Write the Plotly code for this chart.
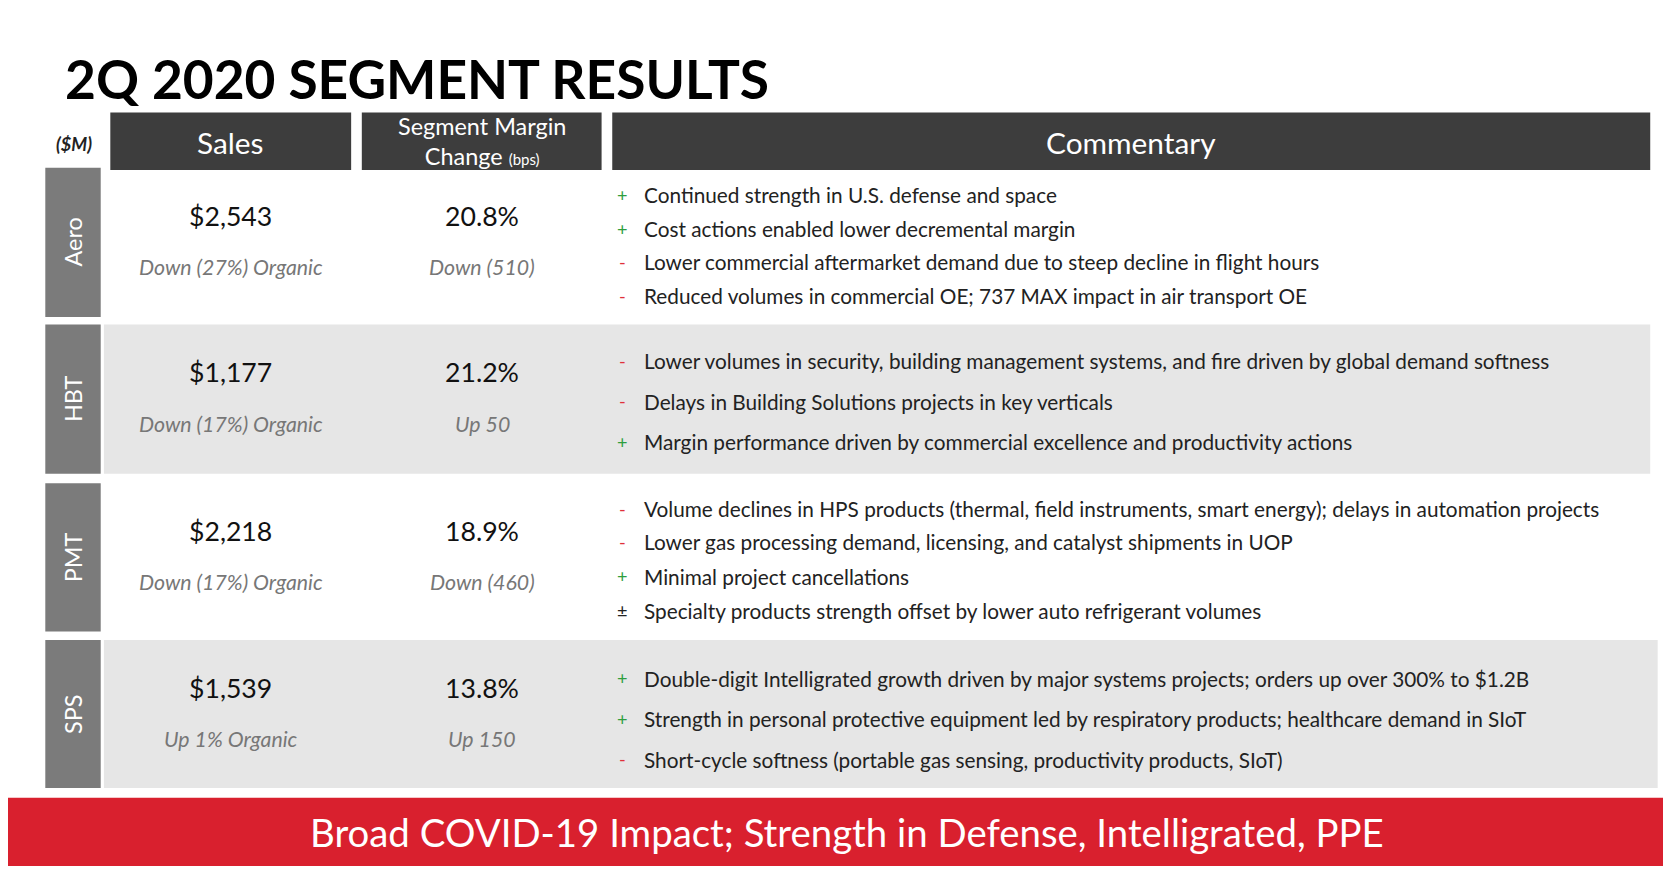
import plotly.graph_objects as go

W, H = 1671, 870
S = W / 1568.0  # layout sketched on a 1568-wide grid

segments = ["Aero", "HBT", "PMT", "SPS"]
sales = ["$2,543", "$1,177", "$2,218", "$1,539"]
sales_sub = ["Down (27%) Organic", "Down (17%) Organic", "Down (17%) Organic", "Up 1% Organic"]
margin = ["20.8%", "21.2%", "18.9%", "13.8%"]
margin_sub = ["Down (510)", "Up 50", "Down (460)", "Up 150"]
commentary = [
    [("+", "Continued strength in U.S. defense and space"),
     ("+", "Cost actions enabled lower decremental margin"),
     ("-", "Lower commercial aftermarket demand due to steep decline in flight hours"),
     ("-", "Reduced volumes in commercial OE; 737 MAX impact in air transport OE")],
    [("-", "Lower volumes in security, building management systems, and fire driven by global demand softness"),
     ("-", "Delays in Building Solutions projects in key verticals"),
     ("+", "Margin performance driven by commercial excellence and productivity actions")],
    [("-", "Volume declines in HPS products (thermal, field instruments, smart energy); delays in automation projects"),
     ("-", "Lower gas processing demand, licensing, and catalyst shipments in UOP"),
     ("+", "Minimal project cancellations"),
     ("±", "Specialty products strength offset by lower auto refrigerant volumes")],
    [("+", "Double-digit Intelligrated growth driven by major systems projects; orders up over 300% to $1.2B"),
     ("+", "Strength in personal protective equipment led by respiratory products; healthcare demand in SIoT"),
     ("-", "Short-cycle softness (portable gas sensing, productivity products, SIoT)")],
]
bullet_y = [[175, 207, 238, 270], [331, 369, 407], [470, 501, 533, 565], [629, 667, 705]]
row_top = [150, 297, 446, 593]
row_bot = [290, 437, 585, 732]
shaded = [False, True, False, True]
sign_color = {"+": "#2e9e3e", "-": "#e0303a", "±": "#222222"}

FONT = "Lato"
shapes, ann = [], []

def rect(x0, y0, x1, y1, color):
    shapes.append(dict(type="rect", x0=x0 * S, x1=x1 * S, y0=y0 * S, y1=y1 * S,
                       fillcolor=color, line=dict(width=0), layer="below"))

def text(x, y, t, size, color="#111", anchor="center", **kw):
    ann.append(dict(x=x * S, y=y * S, text=t, showarrow=False, xanchor=anchor,
                    yanchor="middle", font=dict(family=FONT, size=size * S, color=color), **kw))

# title
text(52, 66, "<b>2Q 2020 SEGMENT RESULTS</b>", 50, "#000", anchor="left")

# header
text(62, 128, "<b><i>($M)</i></b>", 17, "#222")
rect(96, 98, 322, 152, "#3d3d3d")
rect(332, 98, 557, 152, "#3d3d3d")
rect(567, 98, 1541, 152, "#3d3d3d")
text(209, 126, "Sales", 28, "white")
text(445, 125, "Segment Margin<br>Change <span style='font-size:15px'>(bps)</span>", 22, "white")
text(1054, 126, "Commentary", 28, "white")

for i, seg in enumerate(segments):
    t, b = row_top[i], row_bot[i]
    if shaded[i]:
        rect(90, t, 1541 if i < 3 else 1548, b, "#e6e6e6")
    rect(35, t, 87, b, "#7b7b7b")
    text(61, (t + b) / 2, seg, 22, "white", textangle=-90)
    text(209, t + 45, sales[i], 25, "#111")
    text(209, t + 93, "<i>" + sales_sub[i] + "</i>", 20, "#777")
    text(445, t + 45, margin[i], 25, "#111")
    text(445, t + 93, "<i>" + margin_sub[i] + "</i>", 20, "#777")
    for (sg, line), y in zip(commentary[i], bullet_y[i]):
        text(577, y, sg, 17, sign_color[sg])
        text(595, y, line, 19.5, "#222", anchor="left")

# bottom banner
rect(0, 741, 1568, 805, "#d9202e")
text(787, 773, "Broad COVID-19 Impact; Strength in Defense, Intelligrated, PPE", 36, "white")

fig = go.Figure()
fig.update_layout(
    width=W, height=H, margin=dict(l=0, r=0, t=0, b=0),
    paper_bgcolor="white", plot_bgcolor="white",
    xaxis=dict(range=[0, W], visible=False, fixedrange=True),
    yaxis=dict(range=[H, 0], visible=False, fixedrange=True),
    shapes=shapes, annotations=ann, showlegend=False,
)
fig.write_html("out.html")
